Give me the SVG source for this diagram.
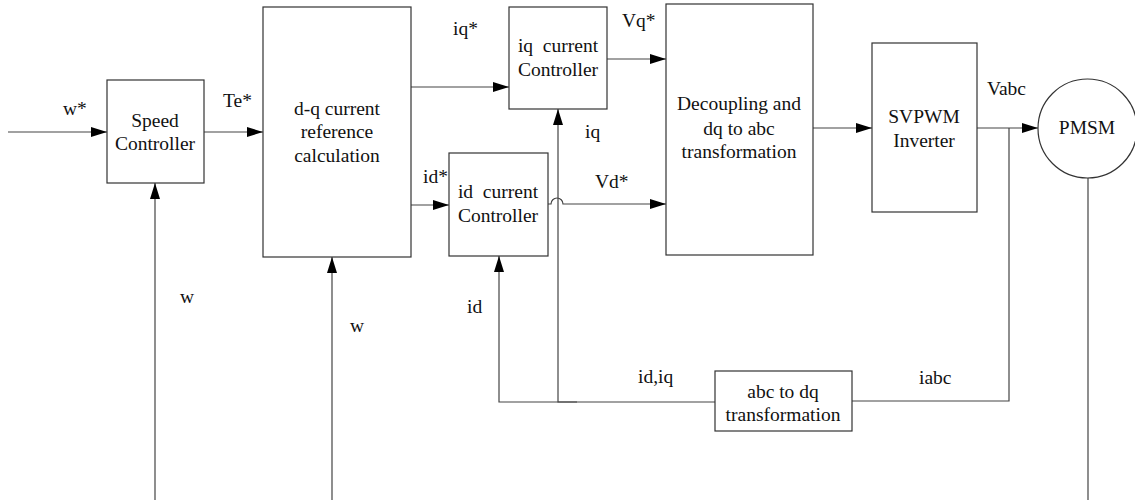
<svg xmlns="http://www.w3.org/2000/svg" width="1135" height="500" viewBox="0 0 1135 500">
  <style>
    .blk { fill: #ffffff; stroke: #333333; stroke-width: 1.2; }
    .wire { fill: none; stroke: #444444; stroke-width: 1.2; }
    .lbl { font-size: 19.5px; fill: #111111; }
    .c { text-anchor: middle; }
  </style>
  <defs>
    <marker id="arrow" markerUnits="userSpaceOnUse" markerWidth="17" markerHeight="11" refX="16" refY="5" orient="auto">
      <path d="M0,0 L16,5 L0,10 z" fill="#000000"/>
    </marker>
  </defs>

  <rect width="1135" height="500" fill="#ffffff"/>

  <!-- connectors -->
  <g id="connectors">
    <!-- speed reference into speed controller -->
    <path class="wire" d="M8,132 H107" marker-end="url(#arrow)"/>
    <!-- torque reference -->
    <path class="wire" d="M204,132 H263" marker-end="url(#arrow)"/>
    <!-- speed feedback -->
    <path class="wire" d="M155,500 V183" marker-end="url(#arrow)"/>
    <path class="wire" d="M332,500 V257" marker-end="url(#arrow)"/>
    <!-- current references -->
    <path class="wire" d="M411,87 H509" marker-end="url(#arrow)"/>
    <path class="wire" d="M411,205 H449" marker-end="url(#arrow)"/>
    <!-- voltage references (Vd* hops over the iq feedback) -->
    <path class="wire" d="M607,59 H666" marker-end="url(#arrow)"/>
    <path class="wire" d="M548,204 H551 A6,6 0 0 1 563,204 H666" marker-end="url(#arrow)"/>
    <!-- decoupling to inverter, inverter to motor -->
    <path class="wire" d="M813,128 H872" marker-end="url(#arrow)"/>
    <path class="wire" d="M977,128 H1038" marker-end="url(#arrow)"/>
    <!-- motor shaft speed -->
    <path class="wire" d="M1088,178 V500"/>
    <!-- phase current measurement -->
    <path class="wire" d="M1009,128 V401 H852"/>
    <!-- dq currents back to controllers -->
    <path class="wire" d="M715,402 H499 V256" marker-end="url(#arrow)"/>
    <path class="wire" d="M577,402 H558 V109" marker-end="url(#arrow)"/>
  </g>

  <g font-family="'Liberation Serif', 'DejaVu Serif', serif" class="lbl">
    <!-- labels on signals -->
    <g id="signal-labels">
      <text x="63" y="115">w*</text>
      <text x="223" y="107">Te*</text>
      <text x="453" y="35">iq*</text>
      <text x="622" y="27">Vq*</text>
      <text x="585" y="138">iq</text>
      <text x="423" y="183">id*</text>
      <text x="595" y="188">Vd*</text>
      <text x="987" y="95">Vabc</text>
      <text x="180" y="303">w</text>
      <text x="350" y="332">w</text>
      <text x="467" y="313">id</text>
      <text x="638" y="383">id,iq</text>
      <text x="919" y="384">iabc</text>
    </g>

    <g id="speed-controller">
      <rect class="blk" x="107" y="80" width="97" height="103"/>
      <text class="c" x="155" y="127">Speed</text>
      <text class="c" x="155" y="150">Controller</text>
    </g>

    <g id="dq-reference">
      <rect class="blk" x="263" y="7" width="148" height="250"/>
      <text class="c" x="337" y="115">d-q current</text>
      <text class="c" x="337" y="138">reference</text>
      <text class="c" x="337" y="162">calculation</text>
    </g>

    <g id="iq-controller">
      <rect class="blk" x="509" y="7" width="98" height="102"/>
      <text class="c" x="558" y="52">iq&#160; current</text>
      <text class="c" x="558" y="76">Controller</text>
    </g>

    <g id="id-controller">
      <rect class="blk" x="449" y="153" width="99" height="103"/>
      <text class="c" x="498" y="198">id&#160; current</text>
      <text class="c" x="498" y="222">Controller</text>
    </g>

    <g id="decoupling">
      <rect class="blk" x="666" y="4" width="147" height="251"/>
      <text class="c" x="739" y="110">Decoupling and</text>
      <text class="c" x="739" y="135">dq to abc</text>
      <text class="c" x="739" y="158">transformation</text>
    </g>

    <g id="svpwm-inverter">
      <rect class="blk" x="872" y="43" width="105" height="169"/>
      <text class="c" x="924" y="123">SVPWM</text>
      <text class="c" x="924" y="147">Inverter</text>
    </g>

    <g id="pmsm">
      <circle class="blk" cx="1087.5" cy="128.5" r="49.5"/>
      <text class="c" x="1087" y="134">PMSM</text>
    </g>

    <g id="abc-to-dq">
      <rect class="blk" x="715" y="371" width="137" height="60"/>
      <text class="c" x="783" y="398">abc to dq</text>
      <text class="c" x="783" y="421">transformation</text>
    </g>
  </g>
</svg>
